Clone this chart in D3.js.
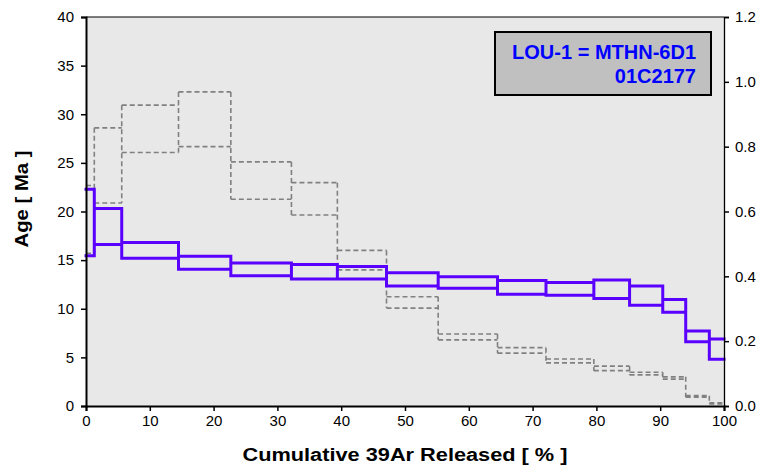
<!DOCTYPE html>
<html>
<head>
<meta charset="utf-8">
<title>Age spectrum</title>
<script src="https://cdn.jsdelivr.net/npm/d3@7/dist/d3.min.js"></script>
<style>
  body { margin: 0; background: #fff; }
  text { font-family: Arial, "Liberation Sans", sans-serif; }
</style>
</head>
<body>
<div id="chart"></div>
<script>
// step boundaries, cumulative 39Ar released (%)
const stepEdges = [0, 1.3, 5.6, 14.5, 22.7, 32.2, 39.4, 47.1, 55.2, 64.5, 72.1, 79.6, 85.2, 90.4, 94.0, 97.7, 100];
// age envelope (Ma), upper / lower per step
const ageHigh = [22.3, 20.3, 16.8, 15.4, 14.7, 14.55, 14.35, 13.7, 13.3, 12.9, 12.7, 12.95, 12.35, 10.95, 7.7, 6.9];
const ageLow  = [15.45, 16.6, 15.2, 14.05, 13.4, 13.05, 13.05, 12.35, 12.1, 11.5, 11.4, 11.05, 10.35, 9.65, 6.6, 4.8];
// ratio envelope (right axis), upper / lower per step
const ratioHigh = [0.68, 0.858, 0.928, 0.969, 0.753, 0.689, 0.48, 0.337, 0.222, 0.18, 0.145, 0.123, 0.104, 0.09, 0.032, 0.01];
const ratioLow  = [0.471, 0.626, 0.782, 0.80, 0.638, 0.589, 0.42, 0.302, 0.204, 0.163, 0.133, 0.109, 0.096, 0.083, 0.027, 0.006];

const xTicks = d3.range(0, 101, 10);
const ageTicks = d3.range(0, 41, 5);
const ratioTicks = [0, 0.2, 0.4, 0.6, 0.8, 1.0, 1.2];
const labelLines = ["LOU-1 = MTHN-6D1", "01C2177"];

const W = 767, H = 473;
const m = { top: 17, right: 43, bottom: 67, left: 86 };
const iw = W - m.left - m.right, ih = H - m.top - m.bottom;

const svg = d3.select("#chart").append("svg")
  .attr("width", W).attr("height", H);
const g = svg.append("g").attr("transform", `translate(${m.left},${m.top})`);

const x = d3.scaleLinear().domain([0, 100]).range([0, iw]);
const yAge = d3.scaleLinear().domain([0, 40]).range([ih, 0]);
const yRatio = d3.scaleLinear().domain([0, 1.2]).range([ih, 0]);

g.append("rect").attr("width", iw).attr("height", ih).attr("fill", "#e8e8e8");

// spectrum outline: horizontal tops/bottoms of each step, and one vertical
// at each inner boundary covering every value of the two neighbouring steps
function spectrumPath(hi, lo, y) {
  let p = "";
  hi.forEach((v, i) => {
    const x0 = x(stepEdges[i]), x1 = x(stepEdges[i + 1]);
    p += `M${x0},${y(v)}H${x1}M${x0},${y(lo[i])}H${x1}`;
  });
  for (let k = 1; k < hi.length; k++) {
    const vals = [hi[k - 1], lo[k - 1], hi[k], lo[k]];
    p += `M${x(stepEdges[k])},${y(d3.max(vals))}V${y(d3.min(vals))}`;
  }
  return p;
}

g.append("path").attr("d", spectrumPath(ratioHigh, ratioLow, yRatio))
  .attr("fill", "none").attr("stroke", "#808080")
  .attr("stroke-width", 1.6).attr("stroke-dasharray", "5,3");

g.append("path").attr("d", spectrumPath(ageHigh, ageLow, yAge))
  .attr("fill", "none").attr("stroke", "#5a00ff")
  .attr("stroke-width", 3).attr("stroke-linecap", "square");

// frame
g.append("line").attr("x1", 0).attr("x2", iw).attr("y1", 0).attr("y2", 0)
  .attr("stroke", "#000").attr("stroke-width", 1.2);

const fs = "15px";
const xAxis = g.append("g").attr("transform", `translate(0,${ih})`)
  .call(d3.axisBottom(x).tickValues(xTicks).tickSize(5).tickPadding(4));
const lAxis = g.append("g")
  .call(d3.axisLeft(yAge).tickValues(ageTicks).tickSize(5).tickPadding(7));
const rAxis = g.append("g").attr("transform", `translate(${iw},0)`)
  .call(d3.axisRight(yRatio).tickValues(ratioTicks).tickFormat(d3.format(".1f")).tickSize(5).tickPadding(6));

[xAxis, lAxis, rAxis].forEach(a => {
  a.select(".domain").attr("stroke", "#000").attr("stroke-width", 2);
  a.selectAll(".tick line").attr("stroke", "#000").attr("stroke-width", 1.5);
  a.selectAll("text").attr("font-size", fs).attr("fill", "#000")
    .attr("font-family", "Arial, 'Liberation Sans', sans-serif");
});
rAxis.select(".domain").attr("stroke-width", 1.3);

// axis titles
svg.append("text")
  .attr("x", 405).attr("y", 461)
  .attr("text-anchor", "middle").attr("font-size", "18px").attr("font-weight", "bold")
  .attr("textLength", 325).attr("lengthAdjust", "spacingAndGlyphs")
  .text("Cumulative 39Ar Released [ % ]");
svg.append("text")
  .attr("transform", "translate(28,199) rotate(-90)")
  .attr("text-anchor", "middle").attr("font-size", "18px").attr("font-weight", "bold")
  .attr("textLength", 97).attr("lengthAdjust", "spacingAndGlyphs")
  .text("Age [ Ma ]");

// sample label box
svg.append("rect").attr("x", 495).attr("y", 32).attr("width", 216).attr("height", 63)
  .attr("fill", "#c0c0c0").attr("stroke", "#000").attr("stroke-width", 2);
svg.selectAll(".lbl").data(labelLines).enter().append("text")
  .attr("x", 696).attr("y", (d, i) => 59 + i * 24)
  .attr("text-anchor", "end").attr("font-size", "20px").attr("font-weight", "bold")
  .attr("fill", "#0000ff")
  .text(d => d);
</script>
</body>
</html>
